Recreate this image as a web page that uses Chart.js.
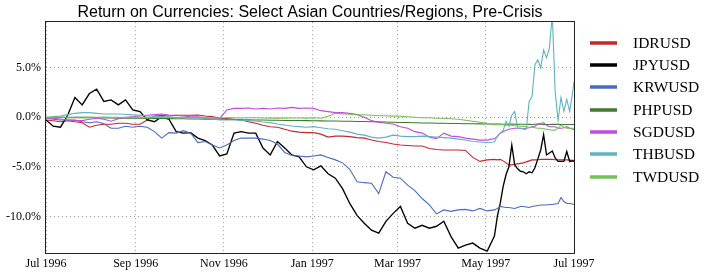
<!DOCTYPE html>
<html>
<head>
<meta charset="utf-8">
<title>Return on Currencies</title>
<script src="https://cdn.jsdelivr.net/npm/chart.js@4.4.1/dist/chart.umd.min.js"></script>
<style>
  html, body { margin: 0; padding: 0; background: #fff; }
  #chart { display: block; }
</style>
</head>
<body>
<canvas id="chart" width="716" height="276"></canvas>
<script>
// x = days since 1 Jul 1996 (denser sampling near the end where THB/JPY get spiky)
const days = [0,5,10,15,20,25,30,35,40,45,50,55,60,65,70,75,80,85,90,
  95,100,105,110,115,120,125,130,135,140,145,150,155,160,165,170,175,180,185,
  190,195,200,205,210,215,220,225,230,235,240,245,250,255,260,265,270,275,
  280,285,290,295,300,305,
  310,312,314,316,318,320,322,324,326,328,330,332,334,336,338,340,342,344,346,348,350,352,354,356,358,360,362,364,
  365];

// cumulative return, percent
const idrusd = [-0.27,-0.35,-0.45,-0.35,-0.45,-0.55,-1.0,-0.8,-0.7,-0.7,-0.6,-0.6,-0.7,-0.7,-0.27,0.13,0.2,0.13,0.2,
  0.2,0.2,0.23,0.13,0.07,-0.1,-0.13,-0.2,-0.27,-0.45,-0.6,-0.8,-0.95,-1.0,-1.2,-1.4,-1.5,-1.55,-1.55,
  -1.7,-2.0,-1.9,-1.9,-1.95,-2.05,-2.1,-2.3,-2.45,-2.55,-2.7,-2.8,-2.85,-2.9,-2.9,-3.15,-3.25,-3.3,
  -3.3,-3.3,-3.35,-4.05,-4.45,-4.3,
  -4.25,-4.3,-4.25,-4.4,-4.6,-4.8,-4.8,-4.75,-4.7,-4.65,-4.6,-4.5,-4.4,-4.3,-4.3,-4.28,-4.25,-4.25,-4.25,-4.25,-4.25,-4.28,-4.3,-4.3,-4.3,-4.3,-4.32,-4.35,
  -4.35];
const jpyusd = [-0.27,-0.9,-1.0,0.2,2.0,1.25,2.4,2.85,1.6,1.75,1.25,1.75,0.75,0.57,-0.27,-0.45,0.07,-0.2,-1.45,
  -1.6,-1.55,-2.1,-2.35,-2.8,-3.9,-3.7,-1.6,-1.45,-1.6,-1.6,-3.1,-3.8,-2.45,-3.1,-3.8,-4.0,-5.0,-5.3,
  -4.9,-5.7,-6.15,-7.2,-8.7,-9.9,-10.7,-11.4,-11.7,-10.5,-9.7,-9.0,-10.7,-11.2,-10.9,-11.2,-11.0,-10.5,
  -12.05,-13.2,-12.9,-12.7,-13.2,-13.5,
  -12.0,-10.0,-8.7,-7.0,-5.8,-5.0,-2.8,-4.8,-5.2,-5.45,-5.5,-5.7,-5.5,-5.6,-5.1,-4.2,-3.3,-1.75,-3.8,-3.6,-3.4,-4.1,-4.45,-4.45,-4.45,-3.45,-4.45,-4.4,
  -4.45];
const krwusd = [-0.1,-0.2,-0.27,-0.27,-0.27,-0.45,-0.55,-0.45,-0.65,-1.1,-1.1,-0.9,-1.0,-0.9,-1.0,-1.45,-2.1,-1.55,-1.6,
  -1.35,-1.6,-2.55,-2.45,-2.8,-3.1,-2.8,-2.35,-2.1,-2.1,-2.1,-2.2,-2.35,-2.7,-3.55,-3.85,-3.9,-4.0,-3.9,
  -3.8,-4.05,-4.3,-4.6,-5.25,-6.5,-6.6,-6.65,-7.7,-5.5,-6.05,-6.15,-6.85,-7.4,-8.2,-8.85,-9.75,-9.35,
  -9.5,-9.35,-9.3,-9.45,-9.2,-9.45,
  -9.35,-9.2,-9.0,-9.05,-9.1,-9.1,-9.15,-9.2,-9.1,-9.0,-9.0,-9.05,-9.1,-9.0,-8.95,-8.9,-8.85,-8.85,-8.85,-8.8,-8.8,-8.75,-8.7,-8.1,-8.5,-8.7,-8.7,-8.75,
  -8.8];
const phpusd = [0.0,-0.02,0.0,-0.03,-0.05,-0.03,-0.05,-0.05,-0.07,-0.07,-0.08,-0.08,-0.1,-0.1,-0.1,-0.12,-0.12,-0.13,-0.15,
  -0.15,-0.17,-0.17,-0.18,-0.2,-0.2,-0.22,-0.23,-0.25,-0.25,-0.27,-0.28,-0.3,-0.3,-0.32,-0.33,-0.33,-0.34,-0.35,
  -0.36,-0.37,-0.38,-0.4,-0.4,-0.42,-0.43,-0.45,-0.46,-0.48,-0.5,-0.52,-0.53,-0.55,-0.57,-0.58,-0.6,-0.6,
  -0.62,-0.63,-0.65,-0.65,-0.66,-0.67,
  -0.68,-0.68,-0.69,-0.7,-0.7,-0.69,-0.68,-0.7,-0.71,-0.7,-0.7,-0.7,-0.71,-0.72,-0.7,-0.69,-0.7,-0.71,-0.72,-0.72,-0.71,-0.7,-0.71,-0.72,-0.72,-0.73,-0.72,-0.72,
  -0.72];
const sgdusd = [-0.1,-0.1,-0.17,-0.27,-0.34,-0.34,-0.2,-0.1,-0.2,-0.4,-0.14,0.0,0.06,0.13,0.2,0.27,0.33,0.23,0.2,
  0.13,0.06,0.06,-0.03,-0.14,-0.14,0.74,0.9,0.9,0.94,0.84,0.9,0.84,0.94,0.9,1.0,0.9,0.94,0.9,
  0.67,0.57,0.47,0.47,0.4,0.27,0.0,-0.34,-0.5,-0.6,-0.67,-0.95,-1.1,-1.45,-1.6,-2.0,-2.15,-1.6,
  -1.9,-1.95,-2.1,-2.2,-2.3,-2.3,
  -2.15,-1.95,-1.6,-1.45,-1.3,-1.2,-1.15,-1.1,-1.1,-1.1,-1.15,-1.1,-1.05,-0.95,-0.9,-0.7,-0.6,-0.55,-0.8,-0.95,-0.95,-0.95,-1.1,-1.1,-1.05,-0.95,-1.1,-1.2,
  -1.2];
const thbusd = [-0.1,0.07,0.13,0.27,0.4,0.47,0.47,0.4,0.34,0.34,0.34,0.3,0.24,0.2,0.13,0.1,0.07,0.03,0.0,
  0.0,-0.03,-0.07,-0.1,-0.17,-0.27,-0.27,-0.27,-0.3,-0.34,-0.37,-0.47,-0.54,-0.67,-0.77,-0.88,-0.94,-1.0,-0.94,
  -1.05,-1.15,-1.2,-1.35,-1.5,-1.7,-1.8,-2.0,-2.1,-2.0,-1.8,-1.9,-1.95,-1.95,-1.9,-1.95,-2.0,-2.05,
  -2.1,-2.2,-2.3,-2.45,-2.5,-2.55,
  -2.5,-1.9,-1.6,-1.35,-0.4,-0.9,0.2,0.6,-1.1,-1.1,-1.2,-1.2,1.6,2.1,5.3,5.8,5.0,6.8,6.0,7.0,10.4,2.5,-0.3,2.0,0.6,1.8,0.6,2.45,
  3.6];
const twdusd = [0.0,0.02,0.03,0.0,0.02,0.03,0.02,0.0,0.02,0.0,0.0,-0.02,0.0,0.0,-0.03,-0.02,0.0,-0.02,-0.03,
  -0.03,-0.05,-0.03,-0.05,-0.05,-0.07,-0.05,-0.05,-0.07,-0.05,-0.05,-0.07,-0.08,-0.07,-0.08,-0.07,-0.07,-0.08,-0.05,
  -0.1,0.1,0.4,0.35,0.3,0.25,0.25,0.2,0.15,0.15,0.12,0.1,0.05,0.0,-0.05,-0.05,-0.1,-0.1,
  -0.15,-0.2,-0.3,-0.4,-0.5,-0.6,
  -0.75,-0.75,-0.72,-0.75,-0.8,-0.78,-0.8,-0.85,-0.88,-0.9,-0.92,-0.95,-1.0,-1.0,-1.05,-1.1,-1.1,-1.15,-1.2,-1.25,-1.3,-1.3,-1.1,-0.8,-1.0,-1.1,-1.1,-1.1,
  -1.1];

const seriesNames = ['IDRUSD', 'JPYUSD', 'KRWUSD', 'PHPUSD', 'SGDUSD', 'THBUSD', 'TWDUSD'];
const seriesValues = [idrusd, jpyusd, krwusd, phpusd, sgdusd, thbusd, twdusd];
const seriesColors = ['#c0282c', '#000000', '#4a6bbf', '#3f7a2e', '#c24be0', '#5fb2c0', '#72c255'];

const xTickDays = [0, 62, 123, 184, 243, 304, 365];
const xTickLabels = ['Jul 1996', 'Sep 1996', 'Nov 1996', 'Jan 1997', 'Mar 1997', 'May 1997', 'Jul 1997'];
const yTicks = [-10, -5, 0, 5];

const serif = '"Liberation Serif", "Times New Roman", serif';

// matplotlib-style box around the axes
const framePlugin = {
    id: 'frame',
    afterDatasetsDraw(chart) {
        const { ctx, chartArea } = chart;
        const l = Math.round(chartArea.left) - 0.5;
        const r = Math.round(chartArea.right) + 0.5;
        const t = Math.round(chartArea.top) - 0.5;
        const b = Math.round(chartArea.bottom) + 0.5;
        ctx.save();
        ctx.strokeStyle = '#222';
        ctx.lineWidth = 1;
        ctx.strokeRect(l, t, r - l, b - t);
        ctx.restore();
    }
};

// legend outside the axes, on the right
const sideLegend = {
    id: 'sideLegend',
    afterDraw(chart) {
        const { ctx, chartArea } = chart;
        const x0 = chartArea.right + 16;
        ctx.save();
        ctx.font = '15.5px ' + serif;
        ctx.textBaseline = 'middle';
        ctx.textAlign = 'left';
        seriesNames.forEach((name, i) => {
            const y = Math.round(chartArea.top + 20.5 + i * 22.3);
            ctx.strokeStyle = seriesColors[i];
            ctx.lineWidth = 3.5;
            ctx.beginPath();
            ctx.moveTo(x0, y);
            ctx.lineTo(x0 + 27, y);
            ctx.stroke();
            ctx.fillStyle = '#000';
            ctx.fillText(name, x0 + 43, y + 0.5);
        });
        ctx.restore();
    }
};

document.addEventListener('DOMContentLoaded', () => {
    const ctx = document.getElementById('chart').getContext('2d');

    const datasets = seriesNames.map((name, i) => ({
        label: name,
        data: days.map((d, j) => ({ x: d, y: seriesValues[i][j] })),
        borderColor: seriesColors[i],
        backgroundColor: seriesColors[i],
        borderWidth: name === 'JPYUSD' ? 1.35 : 1.1,
        pointRadius: 0,
        tension: 0,
        fill: false,
        order: seriesNames.length - i // later series drawn on top
    }));

    new Chart(ctx, {
        type: 'line',
        data: { datasets: datasets },
        options: {
            responsive: false,
            animation: false,
            devicePixelRatio: 1,
            layout: { padding: { left: 0, right: 142, top: 0, bottom: 0 } },
            plugins: {
                legend: { display: false },
                tooltip: { enabled: false },
                title: {
                    display: true,
                    fullSize: false,
                    text: 'Return on Currencies: Select Asian Countries/Regions, Pre-Crisis',
                    color: '#000',
                    font: { family: '"Liberation Sans", Arial, sans-serif', size: 16, weight: 'normal' },
                    padding: { top: 3, bottom: 0 }
                }
            },
            scales: {
                x: {
                    type: 'linear',
                    min: 0,
                    max: 365,
                    afterBuildTicks: (scale) => {
                        scale.ticks = xTickDays.map(v => ({ value: v }));
                    },
                    afterFit: (scale) => { scale.height = 23; },
                    ticks: {
                        autoSkip: false,
                        maxRotation: 0,
                        padding: 4,
                        color: '#000',
                        font: { family: serif, size: 12 },
                        callback: (value) => xTickLabels[xTickDays.indexOf(value)]
                    },
                    grid: { color: '#999', lineWidth: 1, drawTicks: false },
                    border: { display: false, dash: [1, 3] }
                },
                y: {
                    type: 'linear',
                    min: -13.7,
                    max: 9.6,
                    afterBuildTicks: (scale) => {
                        scale.ticks = yTicks.map(v => ({ value: v }));
                    },
                    afterFit: (scale) => { scale.width = 46; },
                    ticks: {
                        padding: 5,
                        color: '#000',
                        font: { family: serif, size: 12 },
                        callback: (value) => value.toFixed(1) + '%'
                    },
                    grid: { color: '#999', lineWidth: 1, drawTicks: false },
                    border: { display: false, dash: [1, 3] }
                }
            }
        },
        plugins: [framePlugin, sideLegend]
    });
});
</script>
</body>
</html>
